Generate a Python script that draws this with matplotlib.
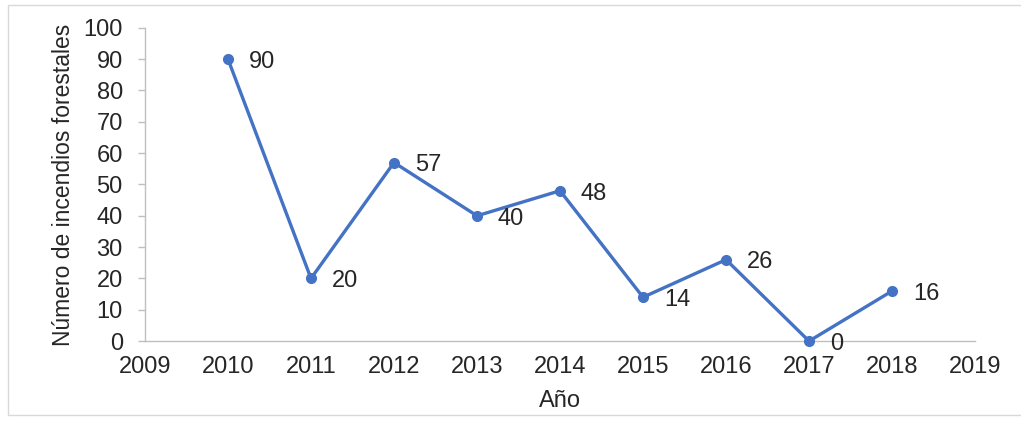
import matplotlib.pyplot as plt
from matplotlib.patches import Rectangle

years = [2010, 2011, 2012, 2013, 2014, 2015, 2016, 2017, 2018]
fires = [90, 20, 57, 40, 48, 14, 26, 0, 16]
x_ticks = list(range(2009, 2020))
y_ticks = list(range(0, 101, 10))

plt.rcParams['font.family'] = ['Liberation Sans', 'DejaVu Sans']

fig = plt.figure(figsize=(10.21, 4.28), dpi=100)
ax = fig.add_axes([0.142, 0.203, 0.813, 0.732])

blue = '#4472C4'
grey = '#BFBFBF'
txt = '#262626'

ax.plot(years, fires, color=blue, lw=2.4, marker='o', markersize=7, clip_on=False, zorder=3)
for x, y in zip(years, fires):
    ax.annotate(str(y), (x, y), xytext=(15, -2), textcoords='offset points',
                ha='left', va='center', fontsize=17, color=txt)

ax.set_xlim(2009, 2019)
ax.set_ylim(0, 100)
ax.set_xticks(x_ticks)
ax.set_yticks(y_ticks)
ax.tick_params(axis='x', length=0, pad=11, labelsize=17, labelcolor=txt)
ax.tick_params(axis='y', length=5, width=1, color=grey, pad=11, labelsize=17, labelcolor=txt)

for side in ['top', 'right']:
    ax.spines[side].set_visible(False)
for side in ['left', 'bottom']:
    ax.spines[side].set_color(grey)
    ax.spines[side].set_linewidth(1)

ax.set_xlabel('Año', fontsize=17, color=txt, labelpad=8)
ax.set_ylabel('Número de incendios forestales', fontsize=16.5, color=txt, labelpad=6)

# frame around the chart
fig.patches.append(Rectangle((0.008, 0.030), 1.0, 0.958, transform=fig.transFigure,
                             fill=False, edgecolor='#D9D9D9', lw=1))

fig.savefig('out.png', dpi=100)
